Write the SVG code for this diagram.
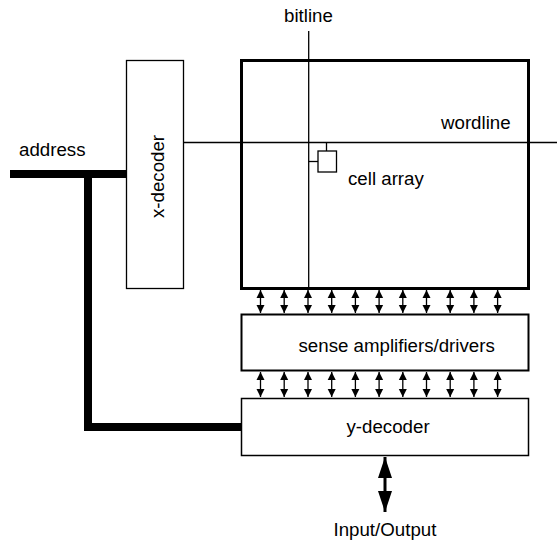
<svg xmlns="http://www.w3.org/2000/svg" width="557" height="542" viewBox="0 0 557 542">
<style>
text{font-family:"Liberation Sans",Arial,sans-serif;font-size:18.7px;fill:#000}
.box{fill:#fff;stroke:#000}
.thin{stroke:#000;stroke-width:1.3;fill:none}
.bus{stroke:#000;stroke-width:8;fill:none}
.sa{stroke:#000;stroke-width:1.3}
</style>
<defs>
<marker id="ah" viewBox="0 0 8 10" refX="8" refY="5" markerWidth="8" markerHeight="10" markerUnits="userSpaceOnUse" orient="auto-start-reverse">
<path d="M0,1 L8,5 L0,9 Z" fill="#000"/>
</marker>
<marker id="big" viewBox="0 0 21 14" refX="21" refY="7" markerWidth="21" markerHeight="14" markerUnits="userSpaceOnUse" orient="auto-start-reverse">
<path d="M0,0 L21,7 L0,14 Z" fill="#000"/>
</marker>
</defs>
<g id="cell-array">
<rect class="box" x="241.5" y="60.5" width="287" height="228" stroke-width="3"/>
<text x="348" y="184.5">cell array</text>
</g>
<g id="x-decoder">
<rect class="box" x="126.5" y="60.5" width="57" height="228" stroke-width="1.3"/>
<text transform="translate(163.5,176.5) rotate(-90)" text-anchor="middle">x-decoder</text>
</g>
<g id="sense-amplifiers">
<rect class="box" x="241.5" y="314.5" width="287" height="56" stroke-width="2"/>
<text x="298.5" y="352">sense amplifiers/drivers</text>
</g>
<g id="y-decoder">
<rect class="box" x="241.5" y="398.5" width="287" height="57" stroke-width="1.5"/>
<text x="346.5" y="433">y-decoder</text>
</g>
<g id="cell">
<rect class="box" x="318" y="151" width="18.5" height="21" stroke-width="1.3"/>
</g>
<g id="labels">
<text x="19" y="155.5">address</text>
<text x="284" y="21.5">bitline</text>
<text x="441" y="128.5">wordline</text>
<text x="333.5" y="535.5">Input/Output</text>
</g>
<g id="connectors">
<line class="thin" x1="308.7" y1="31" x2="308.7" y2="289"/>
<line class="thin" x1="184" y1="142.5" x2="557" y2="142.5"/>
<line class="thin" x1="326.5" y1="142.5" x2="326.5" y2="151"/>
<line class="thin" x1="308.7" y1="161.5" x2="318" y2="161.5"/>
<polyline class="bus" points="10,174 126,174"/>
<polyline class="bus" points="88,170 88,427 241,427"/>
<g id="sa-arrows">
<line class="sa" x1="260.5" y1="290" x2="260.5" y2="313" marker-start="url(#ah)" marker-end="url(#ah)"/>
<line class="sa" x1="284.2" y1="290" x2="284.2" y2="313" marker-start="url(#ah)" marker-end="url(#ah)"/>
<line class="sa" x1="308" y1="290" x2="308" y2="313" marker-start="url(#ah)" marker-end="url(#ah)"/>
<line class="sa" x1="331.7" y1="290" x2="331.7" y2="313" marker-start="url(#ah)" marker-end="url(#ah)"/>
<line class="sa" x1="355.4" y1="290" x2="355.4" y2="313" marker-start="url(#ah)" marker-end="url(#ah)"/>
<line class="sa" x1="379.1" y1="290" x2="379.1" y2="313" marker-start="url(#ah)" marker-end="url(#ah)"/>
<line class="sa" x1="402.8" y1="290" x2="402.8" y2="313" marker-start="url(#ah)" marker-end="url(#ah)"/>
<line class="sa" x1="426.5" y1="290" x2="426.5" y2="313" marker-start="url(#ah)" marker-end="url(#ah)"/>
<line class="sa" x1="450.2" y1="290" x2="450.2" y2="313" marker-start="url(#ah)" marker-end="url(#ah)"/>
<line class="sa" x1="473.9" y1="290" x2="473.9" y2="313" marker-start="url(#ah)" marker-end="url(#ah)"/>
<line class="sa" x1="497.6" y1="290" x2="497.6" y2="313" marker-start="url(#ah)" marker-end="url(#ah)"/>
</g>
<g id="yd-arrows">
<line class="sa" x1="260.5" y1="372" x2="260.5" y2="397" marker-start="url(#ah)" marker-end="url(#ah)"/>
<line class="sa" x1="284.2" y1="372" x2="284.2" y2="397" marker-start="url(#ah)" marker-end="url(#ah)"/>
<line class="sa" x1="308" y1="372" x2="308" y2="397" marker-start="url(#ah)" marker-end="url(#ah)"/>
<line class="sa" x1="331.7" y1="372" x2="331.7" y2="397" marker-start="url(#ah)" marker-end="url(#ah)"/>
<line class="sa" x1="355.4" y1="372" x2="355.4" y2="397" marker-start="url(#ah)" marker-end="url(#ah)"/>
<line class="sa" x1="379.1" y1="372" x2="379.1" y2="397" marker-start="url(#ah)" marker-end="url(#ah)"/>
<line class="sa" x1="402.8" y1="372" x2="402.8" y2="397" marker-start="url(#ah)" marker-end="url(#ah)"/>
<line class="sa" x1="426.5" y1="372" x2="426.5" y2="397" marker-start="url(#ah)" marker-end="url(#ah)"/>
<line class="sa" x1="450.2" y1="372" x2="450.2" y2="397" marker-start="url(#ah)" marker-end="url(#ah)"/>
<line class="sa" x1="473.9" y1="372" x2="473.9" y2="397" marker-start="url(#ah)" marker-end="url(#ah)"/>
<line class="sa" x1="497.6" y1="372" x2="497.6" y2="397" marker-start="url(#ah)" marker-end="url(#ah)"/>
</g>
<line stroke="#000" stroke-width="3" x1="385" y1="457" x2="385" y2="512" marker-start="url(#big)" marker-end="url(#big)"/>
</g>
</svg>
